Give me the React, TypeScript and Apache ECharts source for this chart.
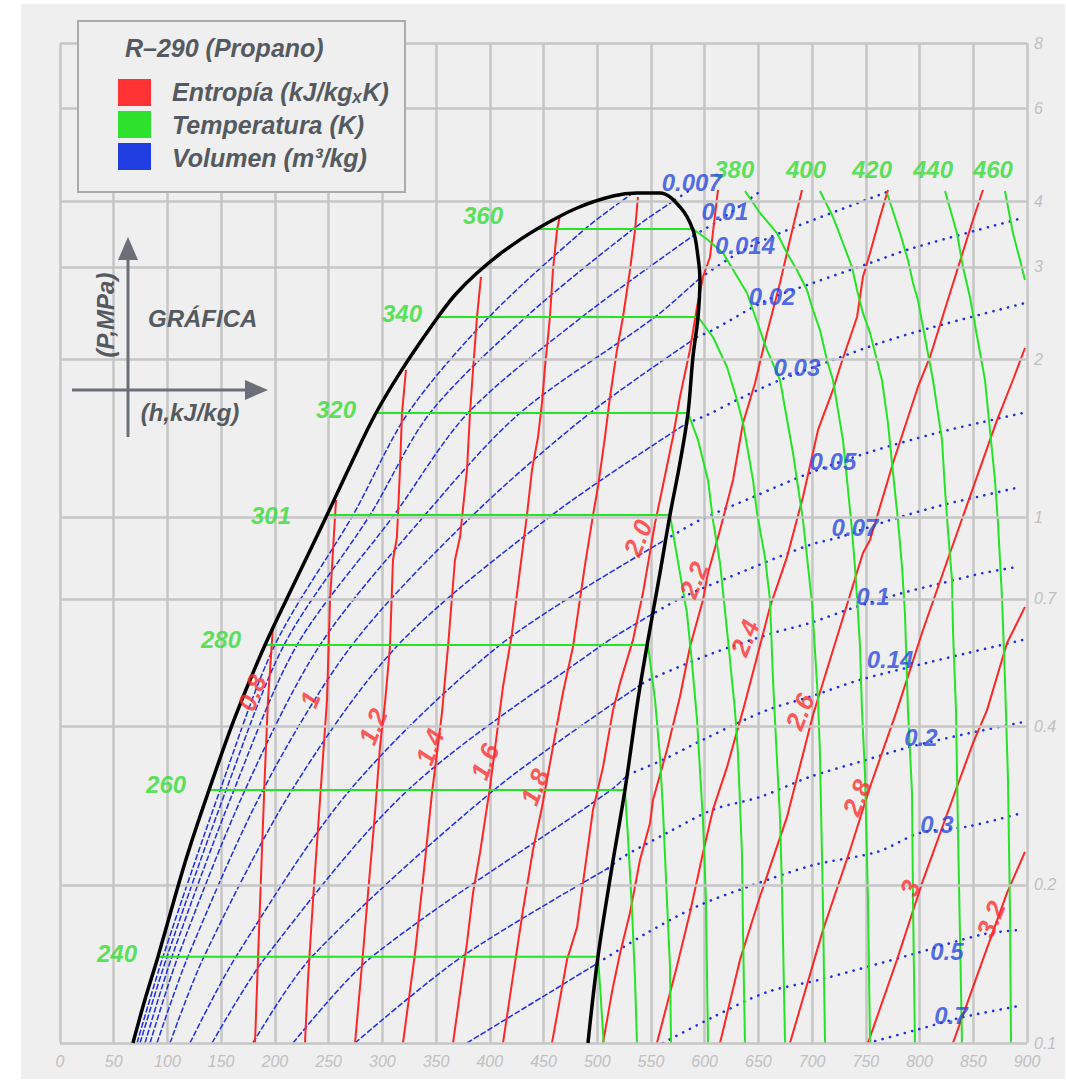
import React, { useEffect, useRef } from "react";
import * as echarts from "echarts";

type Pt = [number, number];

// ---------- axes ----------
const H_MIN = 0;
const H_MAX = 900;
const H_STEP = 50;
const P_MIN = 0.1;
const P_MAX = 8;
const PRESSURE_GRID = [0.1, 0.2, 0.4, 0.7, 1, 2, 3, 4, 6, 8];

// ---------- saturation dome (h kJ/kg, P MPa) ----------
const saturationDome: Pt[] = [
  [67.9, 0.1], [79.1, 0.121], [91.2, 0.146], [106.1, 0.187], [119.1, 0.23], [138.7, 0.303],
  [162.9, 0.417], [190.8, 0.572], [219.6, 0.761], [248.5, 1.011], [270.8, 1.265], [294.1, 1.581],
  [321.1, 1.952], [351.8, 2.408], [367.6, 2.652], [388.1, 2.92], [413.2, 3.216], [443.9, 3.541],
  [481.2, 3.882], [514.7, 4.092], [537.0, 4.146], [558.4, 4.146], [577.0, 3.9], [589.1, 3.526],
  [593.8, 3.132], [595.6, 2.832], [593.8, 2.408], [589.1, 2.021], [584.5, 1.581], [577.0, 1.27],
  [567.7, 1.011], [558.4, 0.784], [547.3, 0.585], [537.9, 0.45], [525.8, 0.303], [513.7, 0.216],
  [500.7, 0.146], [491.4, 0.1],
];

// ---------- isotherms (K) ----------
const T240: Pt[] = [[91.2, 0.146], [500.7, 0.146], [503.0, 0.125], [506.0, 0.1]];
const T260: Pt[] = [[138.7, 0.303], [525.8, 0.303], [528.6, 0.247], [532.4, 0.179], [535.2, 0.132], [537.0, 0.1]];
const T280: Pt[] = [[190.8, 0.572], [547.3, 0.572], [553.8, 0.45], [558.4, 0.35], [561.2, 0.278], [564.9, 0.187], [567.7, 0.14], [568.7, 0.1]];
const T301: Pt[] = [[248.5, 1.011], [567.7, 1.011], [577.0, 0.784], [583.5, 0.658], [588.2, 0.529], [592.9, 0.412], [595.6, 0.331], [598.4, 0.266], [601.2, 0.187], [603.1, 0.1]];
const T320: Pt[] = [[294.1, 1.581], [584.5, 1.581], [593.8, 1.405], [603.1, 1.179], [607.7, 0.989], [614.3, 0.82], [621.7, 0.585], [628.2, 0.43], [631.0, 0.356], [634.7, 0.23], [635.7, 0.162], [637.5, 0.1]];
const T340: Pt[] = [[351.8, 2.408], [593.8, 2.408], [607.7, 2.206], [620.8, 1.934], [630.1, 1.674], [635.7, 1.513], [645.0, 1.179], [648.7, 1.02], [656.1, 0.841], [660.8, 0.697], [663.6, 0.491], [667.3, 0.346], [670.1, 0.269], [672.0, 0.196], [674.8, 0.1]];
const T360: Pt[] = [[443.9, 3.541], [589.1, 3.541], [603.1, 3.374], [617.1, 3.187], [639.4, 2.675], [658.0, 2.084], [670.1, 1.827], [682.2, 1.327], [686.9, 1.143], [691.5, 0.989], [699.9, 0.688], [705.5, 0.45], [707.3, 0.356], [710.1, 0.182], [712.0, 0.1]];
const T380: Pt[] = [[637.5, 4.183], [651.5, 3.799], [667.3, 3.479], [676.6, 3.187], [685.9, 2.958], [695.2, 2.711], [700.8, 2.483], [707.3, 2.275], [713.8, 1.995], [719.4, 1.827], [728.7, 1.405], [732.5, 1.179], [737.1, 0.947], [739.9, 0.805], [742.7, 0.658], [744.6, 0.567], [746.4, 0.43], [749.2, 0.326], [752.0, 0.187], [753.9, 0.1]];
const T400: Pt[] = [[707.3, 4.183], [719.4, 3.733], [728.7, 3.33], [737.1, 2.998], [741.8, 2.711], [747.3, 2.451], [753.9, 2.246], [765.0, 1.827], [770.6, 1.513], [775.3, 1.216], [779.9, 0.989], [783.7, 0.805], [786.4, 0.658], [789.2, 0.43], [793.0, 0.299], [793.9, 0.187], [795.7, 0.1]];
const T420: Pt[] = [[769.7, 4.146], [781.8, 3.479], [789.2, 3.091], [793.9, 2.795], [798.5, 2.594], [812.5, 1.827], [820.9, 1.405], [823.7, 1.128], [826.4, 0.947], [830.2, 0.761], [831.1, 0.611], [833.9, 0.43], [835.8, 0.251], [837.6, 0.162], [839.5, 0.1]];
const T440: Pt[] = [[823.7, 4.183], [834.8, 3.479], [840.4, 2.998], [846.9, 2.628], [860.9, 1.827], [865.5, 1.468], [870.2, 1.179], [873.0, 0.976], [876.7, 0.706], [879.5, 0.491], [882.3, 0.317], [884.2, 0.177], [885.1, 0.1]];
const T460: Pt[] = [[879.5, 4.183], [886.9, 3.479], [893.5, 3.091], [898.1, 2.832]];
const isotherms: Pt[][] = [T240, T260, T280, T301, T320, T340, T360, T380, T400, T420, T440, T460];

const isothermLabels = [
  { text: "240", h: 53.0, p: 0.148 },
  { text: "260", h: 98.7, p: 0.31 },
  { text: "280", h: 149.8, p: 0.585 },
  { text: "301", h: 196.4, p: 1.011 },
  { text: "320", h: 256.9, p: 1.609 },
  { text: "340", h: 318.3, p: 2.45 },
  { text: "360", h: 393.7, p: 3.749 },
  { text: "380", h: 627.5, p: 4.586 },
  { text: "400", h: 694.3, p: 4.586 },
  { text: "420", h: 755.7, p: 4.586 },
  { text: "440", h: 812.5, p: 4.586 },
  { text: "460", h: 868.3, p: 4.586 },
];

// ---------- isentropes (kJ/kg K) ----------
const S08: Pt[] = [[198.2, 0.618], [193.6, 0.45], [190.8, 0.331], [188.0, 0.233], [184.3, 0.145], [181.5, 0.1]];
const S10: Pt[] = [[256.9, 1.08], [251.3, 0.697], [248.5, 0.45], [242.0, 0.29], [235.5, 0.187], [230.8, 0.132], [228.0, 0.1]];
const S12: Pt[] = [[322.0, 1.909], [318.3, 1.581], [316.4, 1.232], [313.6, 0.918], [309.9, 0.83], [307.1, 0.567], [302.5, 0.444], [297.8, 0.366], [293.2, 0.274], [286.7, 0.193], [282.0, 0.148], [274.6, 0.1]];
const S14: Pt[] = [[391.8, 2.869], [388.1, 2.408], [384.4, 1.909], [381.6, 1.581], [378.8, 1.232], [372.3, 0.918], [367.6, 0.83], [361.1, 0.567], [355.5, 0.425], [346.2, 0.299], [337.8, 0.204], [330.4, 0.148], [319.2, 0.1]];
const S16: Pt[] = [[465.0, 3.733], [462.6, 3.526], [458.8, 2.958], [456.0, 2.408], [451.4, 1.934], [448.6, 1.652], [444.9, 1.423], [439.3, 1.232], [434.6, 1.011], [428.1, 0.795], [420.7, 0.603], [412.3, 0.476], [406.7, 0.389], [400.2, 0.307], [390.9, 0.23], [384.4, 0.193], [378.8, 0.155], [365.8, 0.1]];
const S18: Pt[] = [[537.9, 4.074], [535.2, 3.526], [530.5, 2.958], [524.0, 2.408], [518.4, 2.084], [511.9, 1.696], [507.2, 1.423], [500.7, 1.143], [496.1, 1.011], [488.6, 0.812], [477.4, 0.567], [468.1, 0.464], [458.8, 0.366], [448.6, 0.281], [440.2, 0.233], [430.9, 0.179], [421.6, 0.134], [412.3, 0.1]];
const S20: Pt[] = [[612.4, 4.201], [605.0, 3.132], [598.4, 2.869], [592.9, 2.517], [586.3, 2.084], [577.0, 1.696], [570.5, 1.423], [560.3, 1.128], [553.8, 0.976], [542.6, 0.719], [533.3, 0.585], [521.2, 0.484], [514.7, 0.43], [505.4, 0.335], [496.1, 0.278], [486.8, 0.202], [481.2, 0.166], [471.9, 0.144], [457.9, 0.1]];
const S22: Pt[] = [[690.6, 4.201], [682.2, 3.572], [670.1, 2.795], [658.0, 2.246], [646.9, 1.803], [635.7, 1.513], [626.4, 1.179], [614.3, 0.947], [603.1, 0.784], [598.4, 0.697], [586.3, 0.567], [577.0, 0.456], [564.9, 0.361], [551.9, 0.29], [549.1, 0.262], [539.8, 0.223], [530.5, 0.177], [521.2, 0.148], [513.7, 0.125], [505.4, 0.1]];
const S24: Pt[] = [[770.6, 4.201], [763.2, 3.733], [753.9, 3.187], [747.3, 2.869], [741.8, 2.408], [726.0, 1.934], [719.4, 1.749], [705.5, 1.468], [691.5, 1.094], [676.6, 0.841], [660.8, 0.676], [648.7, 0.543], [635.7, 0.43], [620.8, 0.335], [607.7, 0.278], [598.4, 0.23], [586.3, 0.177], [574.2, 0.14], [555.6, 0.1]];
const S26: Pt[] = [[859.0, 4.201], [848.8, 3.636], [809.7, 2.021], [798.5, 1.772], [775.3, 1.27], [753.9, 0.906], [747.3, 0.856], [700.8, 0.421], [676.6, 0.269], [651.5, 0.19], [632.9, 0.144], [614.3, 0.1]];
const S28: Pt[] = [[898.1, 2.102], [886.9, 1.827], [872.1, 1.533], [853.4, 1.195], [828.3, 0.856], [803.2, 0.611], [779.0, 0.43], [753.9, 0.307], [735.3, 0.233], [710.1, 0.164], [679.4, 0.1]];
const S30: Pt[] = [[898.1, 0.676], [881.4, 0.577], [862.8, 0.43], [849.7, 0.372], [834.8, 0.307], [803.2, 0.204], [779.0, 0.144], [752.0, 0.1]];
const S32: Pt[] = [[898.1, 0.231], [881.4, 0.193], [853.4, 0.134], [831.1, 0.1]];
const isentropes: Pt[][] = [S08, S10, S12, S14, S16, S18, S20, S22, S24, S26, S28, S30, S32];

const isentropeLabels = [
  { text: "0.8", h: 178.7, p: 0.464 },
  { text: "1", h: 232.7, p: 0.45 },
  { text: "1.2", h: 291.3, p: 0.4 },
  { text: "1.4", h: 344.4, p: 0.366 },
  { text: "1.6", h: 395.5, p: 0.343 },
  { text: "1.8", h: 442.1, p: 0.307 },
  { text: "2.0", h: 538.0, p: 0.914 },
  { text: "2.2", h: 590.1, p: 0.761 },
  { text: "2.4", h: 637.5, p: 0.59 },
  { text: "2.6", h: 688.7, p: 0.427 },
  { text: "2.8", h: 741.8, p: 0.293 },
  { text: "3", h: 791.1, p: 0.197 },
  { text: "3.2", h: 866.5, p: 0.172 },
];

// ---------- isochores (m3/kg): two-phase part ----------
const V005in: Pt[] = [[71.7, 0.1], [95.9, 0.146], [149.0, 0.303], [200.0, 0.572], [272.7, 1.011], [323.9, 1.581], [399.3, 2.408], [488.6, 3.541], [533.3, 4.146]];
const V007in: Pt[] = [[74.5, 0.1], [99.6, 0.146], [154.6, 0.303], [208.5, 0.572], [288.5, 1.011], [344.4, 1.581], [433.7, 2.408], [533.3, 3.541], [572.4, 4.021]];
const V010in: Pt[] = [[79.1, 0.1], [104.2, 0.146], [161.9, 0.303], [220.6, 0.572], [310.9, 1.011], [379.7, 1.581], [485.8, 2.408], [590.1, 3.449]];
const V014in: Pt[] = [[83.8, 0.1], [109.8, 0.146], [172.2, 0.303], [242.0, 0.572], [339.7, 1.011], [428.1, 1.581], [553.8, 2.408], [595.6, 2.857]];
const V020in: Pt[] = [[90.3, 0.1], [119.1, 0.146], [188.9, 0.303], [271.8, 0.572], [384.4, 1.011], [493.3, 1.581], [592.9, 2.206]];
const V030in: Pt[] = [[102.4, 0.1], [134.0, 0.146], [215.9, 0.303], [314.6, 0.572], [457.9, 1.011], [583.5, 1.513]];
const V050in: Pt[] = [[121.0, 0.1], [163.8, 0.146], [269.9, 0.303], [409.5, 0.572], [563.1, 0.906]];
const V070in: Pt[] = [[141.5, 0.1], [191.7, 0.146], [323.9, 0.303], [504.4, 0.572], [554.7, 0.661]];
const V100in: Pt[] = [[179.6, 0.1], [234.5, 0.146], [403.9, 0.303], [542.6, 0.484]];
const V140in: Pt[] = [[216.9, 0.1], [290.4, 0.146], [512.8, 0.303], [528.6, 0.324]];
const V200in: Pt[] = [[274.6, 0.1], [374.1, 0.146], [510.0, 0.215]];
const V300in: Pt[] = [[378.8, 0.1], [500.7, 0.142]];
const isochoresTwoPhase: Pt[][] = [V005in, V007in, V010in, V014in, V020in, V030in, V050in, V070in, V100in, V140in, V200in, V300in];

// ---------- isochores: vapour part ----------
const V007out: Pt[] = [[572.4, 4.021], [586.3, 4.201]];
const V010out: Pt[] = [[590.1, 3.449], [614.3, 3.685], [653.4, 4.201]];
const V014out: Pt[] = [[595.6, 2.857], [632.9, 3.201], [670.1, 3.479], [769.7, 4.164]];
const V020out: Pt[] = [[592.9, 2.206], [607.7, 2.275], [658.0, 2.594], [700.8, 2.795], [753.9, 3.051], [793.9, 3.258], [896.2, 3.717]];
const V030out: Pt[] = [[583.5, 1.513], [602.2, 1.567], [630.1, 1.674], [670.1, 1.827], [719.4, 1.995], [763.2, 2.149], [809.7, 2.295], [898.1, 2.56]];
const V050out: Pt[] = [[563.1, 0.906], [595.6, 0.989], [645.0, 1.094], [698.0, 1.216], [753.9, 1.333], [816.2, 1.449], [859.0, 1.52], [896.2, 1.581]];
const V070out: Pt[] = [[554.7, 0.661], [579.8, 0.706], [639.4, 0.795], [698.0, 0.887], [726.0, 0.918], [772.5, 0.989], [821.8, 1.057], [853.4, 1.094], [893.5, 1.143]];
const V100out: Pt[] = [[542.6, 0.484], [551.9, 0.495], [607.7, 0.552], [663.6, 0.603], [698.0, 0.63], [738.0, 0.673], [784.6, 0.719], [821.8, 0.751], [859.0, 0.784], [890.7, 0.805]];
const V140out: Pt[] = [[528.6, 0.324], [561.2, 0.346], [602.2, 0.381], [658.0, 0.43], [698.0, 0.456], [744.6, 0.491], [806.9, 0.529], [844.1, 0.552], [896.2, 0.585]];
const V200out: Pt[] = [[510.0, 0.215], [524.0, 0.226], [564.9, 0.251], [607.7, 0.278], [651.5, 0.294], [698.0, 0.321], [744.6, 0.343], [791.1, 0.366], [846.9, 0.389], [896.2, 0.408]];
const V300out: Pt[] = [[500.7, 0.142], [546.3, 0.162], [592.9, 0.182], [639.4, 0.198], [700.8, 0.218], [760.4, 0.231], [800.4, 0.251], [844.1, 0.258], [895.3, 0.274]];
const V500out: Pt[] = [[561.2, 0.1], [607.7, 0.112], [658.0, 0.125], [707.3, 0.132], [795.7, 0.148], [859.0, 0.161], [891.6, 0.164]];
const V700out: Pt[] = [[752.0, 0.1], [797.6, 0.106], [840.4, 0.112], [896.2, 0.118]];
const isochoresVapour: Pt[][] = [V007out, V010out, V014out, V020out, V030out, V050out, V070out, V100out, V140out, V200out, V300out, V500out, V700out];

const isochoreLabels = [
  { text: "0.007", h: 588.0, p: 4.332 },
  { text: "0.01", h: 618.9, p: 3.816 },
  { text: "0.014", h: 637.5, p: 3.301 },
  { text: "0.02", h: 662.7, p: 2.629 },
  { text: "0.03", h: 685.9, p: 1.934 },
  { text: "0.05", h: 719.4, p: 1.276 },
  { text: "0.07", h: 739.9, p: 0.959 },
  { text: "0.1", h: 756.7, p: 0.706 },
  { text: "0.14", h: 772.5, p: 0.536 },
  { text: "0.2", h: 801.3, p: 0.381 },
  { text: "0.3", h: 816.2, p: 0.26 },
  { text: "0.5", h: 825.5, p: 0.149 },
  { text: "0.7", h: 829.3, p: 0.113 },
];

// ---------- legend texts ----------
const CHART_TITLE = "R\u2013290 (Propano)";
const LEGEND_ITEMS = [
  { text: "Entropía (kJ/kg\u2093K)", color: "#ff3333" },
  { text: "Temperatura (K)", color: "#2de12d" },
  { text: "Volumen (m\u00b3/kg)", color: "#1f3de0" },
];

const FONT = '"Liberation Sans", Arial, Helvetica, sans-serif';
const GRID_COLOR = "#c6c6c6";
const RED = "#ff2626";
const GREEN = "#25e425";
const BLUE = "#1d2ee6";
const BLACK = "#000000";
const BG = "#efefef";
const DARK_TEXT = "#555a60";

function lineSeries(data: Pt[], lineStyle: any, z: number, smooth: number | boolean = false) {
  return {
    type: "line",
    data,
    showSymbol: false,
    symbol: "none",
    silent: true,
    smooth,
    z,
    animation: false,
    lineStyle,
  };
}

function labelSeries(labels: { text: string; h: number; p: number }[], color: string, fontSize: number, rotate: number, z: number) {
  return {
    type: "scatter",
    data: labels.map((l) => ({ value: [l.h, l.p], name: l.text })),
    symbol: "circle",
    symbolSize: 1,
    itemStyle: { color: "rgba(0,0,0,0)" },
    silent: true,
    z,
    animation: false,
    label: {
      show: true,
      position: "inside",
      formatter: "{b}",
      color,
      fontSize,
      fontWeight: "bold",
      fontStyle: "italic",
      fontFamily: FONT,
      rotate,
    },
  };
}

export default function App() {
  const ref = useRef<HTMLDivElement>(null);

  useEffect(() => {
    if (!ref.current) return;
    const chart = echarts.init(ref.current, undefined, { renderer: "svg" });

    const series: any[] = [];

    // horizontal grid lines + right-hand pressure labels
    series.push({
      type: "line",
      data: [[H_MIN, P_MIN]],
      showSymbol: false,
      symbol: "none",
      silent: true,
      z: 0,
      animation: false,
      lineStyle: { opacity: 0 },
      markLine: {
        silent: true,
        animation: false,
        symbol: ["none", "none"],
        lineStyle: { color: GRID_COLOR, width: 2.5, type: "solid" },
        label: {
          show: true,
          position: "end",
          distance: 7,
          formatter: (p: any) => String(p.value),
          color: "#c0c0c0",
          fontStyle: "italic",
          fontSize: 16,
          fontFamily: FONT,
        },
        data: PRESSURE_GRID.map((p) => ({ yAxis: p })),
      },
    });

    isochoresTwoPhase.forEach((d) =>
      series.push(lineSeries(d, { color: BLUE, width: 1.5, type: [6, 2] }, 2, 0.3))
    );
    isochoresVapour.forEach((d) =>
      series.push(lineSeries(d, { color: BLUE, width: 2.6, type: [0.1, 7.5], cap: "round" }, 2, 0.3))
    );
    isentropes.forEach((d) => series.push(lineSeries(d, { color: RED, width: 2 }, 3)));
    isotherms.forEach((d) => series.push(lineSeries(d, { color: GREEN, width: 2 }, 4)));
    series.push(lineSeries(saturationDome, { color: BLACK, width: 3.5 }, 5, 0.35));

    series.push(labelSeries(isothermLabels, "#33dd33", 24, 0, 10));
    series.push(labelSeries(isochoreLabels, "#2848e0", 24, 0, 11));
    series.push(labelSeries(isentropeLabels, "#ff3030", 26, 68, 10));

    const textFont = `italic bold 25px ${FONT}`;
    const graphic: any[] = [
      {
        type: "rect",
        z: 100,
        shape: { x: 57, y: 17, width: 327, height: 171 },
        style: { fill: BG, stroke: "#a9acaf", lineWidth: 2 },
      },
      {
        type: "text",
        z: 101,
        x: 104,
        y: 44,
        style: { text: CHART_TITLE, fill: DARK_TEXT, font: textFont, verticalAlign: "middle" },
      },
      ...LEGEND_ITEMS.flatMap((item, i) => [
        {
          type: "rect",
          z: 101,
          shape: { x: 97, y: 75 + i * 32, width: 33, height: 27 },
          style: { fill: item.color },
        },
        {
          type: "text",
          z: 101,
          x: 151,
          y: 88 + i * 33,
          style: { text: item.text, fill: DARK_TEXT, font: textFont, verticalAlign: "middle" },
        },
      ]),
      {
        type: "text",
        z: 101,
        x: 127,
        y: 314,
        style: { text: "GRÁFICA", fill: DARK_TEXT, font: `italic bold 24px ${FONT}`, verticalAlign: "middle" },
      },
      {
        type: "line",
        z: 101,
        shape: { x1: 107, y1: 433, x2: 107, y2: 252 },
        style: { stroke: "#6b7078", lineWidth: 3 },
      },
      {
        type: "polygon",
        z: 101,
        shape: { points: [[107, 233], [97, 256], [117, 256]] },
        style: { fill: "#6b7078" },
      },
      {
        type: "line",
        z: 101,
        shape: { x1: 51, y1: 386, x2: 228, y2: 386 },
        style: { stroke: "#6b7078", lineWidth: 3 },
      },
      {
        type: "polygon",
        z: 101,
        shape: { points: [[247, 386], [224, 376], [224, 396]] },
        style: { fill: "#6b7078" },
      },
      {
        type: "text",
        z: 101,
        x: 84,
        y: 311,
        rotation: Math.PI / 2,
        style: {
          text: "(P,MPa)",
          fill: DARK_TEXT,
          font: `italic bold 24px ${FONT}`,
          align: "center",
          verticalAlign: "middle",
        },
      },
      {
        type: "text",
        z: 101,
        x: 169,
        y: 408,
        style: {
          text: "(h,kJ/kg)",
          fill: DARK_TEXT,
          font: `italic bold 24px ${FONT}`,
          align: "center",
          verticalAlign: "middle",
        },
      },
    ];

    chart.setOption({
      animation: false,
      backgroundColor: BG,
      grid: { left: 39, top: 39, width: 967, height: 1000 },
      xAxis: {
        type: "value",
        min: H_MIN,
        max: H_MAX,
        interval: H_STEP,
        axisLine: { show: false },
        axisTick: { show: false },
        splitLine: { show: true, lineStyle: { color: GRID_COLOR, width: 2.5 } },
        axisLabel: {
          color: "#c0c0c0",
          fontStyle: "italic",
          fontSize: 16,
          fontFamily: FONT,
          margin: 10,
        },
      },
      yAxis: {
        type: "log",
        logBase: 10,
        min: P_MIN,
        max: P_MAX,
        position: "right",
        axisLine: { show: false },
        axisTick: { show: false },
        axisLabel: { show: false },
        splitLine: { show: false },
      },
      series,
      graphic,
    });

    return () => {
      chart.dispose();
    };
  }, []);

  return (
    <div
      ref={ref}
      style={{
        position: "absolute",
        left: 21,
        top: 4,
        width: 1044,
        height: 1075,
        background: BG,
      }}
    />
  );
}
